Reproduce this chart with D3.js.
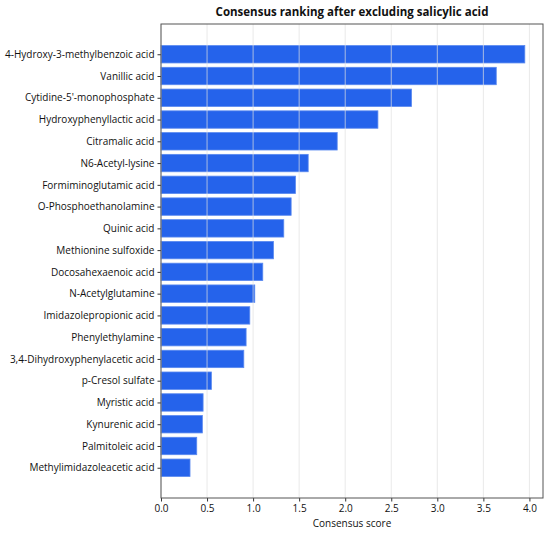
<!DOCTYPE html>
<html><head><meta charset="utf-8">
<script src="https://cdn.jsdelivr.net/npm/d3@7/dist/d3.min.js"></script>
<style>body{margin:0;background:#fff}svg{display:block}text{font-family:"Open Sans","Noto Sans",sans-serif;fill:#111}</style>
</head><body><svg id="c" width="550" height="534"></svg>
<script>
const categories = ["4-Hydroxy-3-methylbenzoic acid","Vanillic acid","Cytidine-5'-monophosphate","Hydroxyphenyllactic acid","Citramalic acid","N6-Acetyl-lysine","Formiminoglutamic acid","O-Phosphoethanolamine","Quinic acid","Methionine sulfoxide","Docosahexaenoic acid","N-Acetylglutamine","Imidazolepropionic acid","Phenylethylamine","3,4-Dihydroxyphenylacetic acid","p-Cresol sulfate","Myristic acid","Kynurenic acid","Palmitoleic acid","Methylimidazoleacetic acid"];
const scores = [3.95,3.64,2.72,2.355,1.913,1.598,1.46,1.413,1.333,1.221,1.105,1.018,0.964,0.924,0.899,0.547,0.457,0.449,0.388,0.315];
const xTicks = [0,0.5,1,1.5,2,2.5,3,3.5,4];
const title = "Consensus ranking after excluding salicylic acid";
const xLabel = "Consensus score";

const L=161,R=543,T=24,B=498;
const svg=d3.select("#c");
const n=categories.length;
const xMax=d3.max(scores)*1.05;
const x=d3.scaleLinear().domain([0,xMax]).range([L,R]);
const pad=0.4+0.05*(n-1+0.8);
const y=d3.scaleLinear().domain([-pad, n-1+pad]).range([T,B]);
const bh=y(0.4)-y(-0.4);

svg.append("g").selectAll("rect").data(scores).join("rect")
 .attr("x",x(0)).attr("y",(d,i)=>y(i)-bh/2)
 .attr("width",d=>x(d)-x(0)).attr("height",bh)
 .attr("fill","#2563eb").attr("stroke","#5a89ef").attr("stroke-width",0.8);

svg.append("g").selectAll("line").data(xTicks).join("line")
 .attr("x1",d=>x(d)).attr("x2",d=>x(d)).attr("y1",T).attr("y2",B)
 .attr("stroke","#e0e0e0").attr("stroke-opacity",0.7).attr("stroke-width",1);

const xa=svg.append("g").attr("transform",`translate(0,${B})`)
 .call(d3.axisBottom(x).tickValues(xTicks).tickFormat(d3.format(".1f")).tickSize(3.5).tickPadding(3));
const ya=svg.append("g").attr("transform",`translate(${L},0)`)
 .call(d3.axisLeft(y).tickValues(d3.range(n)).tickFormat(i=>categories[i]).tickSize(3.5).tickPadding(3));
[xa,ya].forEach(a=>{a.select(".domain").remove();a.selectAll("line").attr("stroke","#333");a.selectAll("text").attr("font-size",10).attr("fill","#111").style("font-family",'"Open Sans","Noto Sans",sans-serif');});
svg.append("rect").attr("x",L).attr("y",T).attr("width",R-L).attr("height",B-T)
 .attr("fill","none").attr("stroke","#555").attr("stroke-width",1);
svg.append("text").attr("x",(L+R)/2).attr("y",16).attr("text-anchor","middle")
 .attr("font-size",11.5).attr("font-weight","bold").text(title);
svg.append("text").attr("x",(L+R)/2).attr("y",527).attr("text-anchor","middle")
 .attr("font-size",10).text(xLabel);
</script></body></html>
